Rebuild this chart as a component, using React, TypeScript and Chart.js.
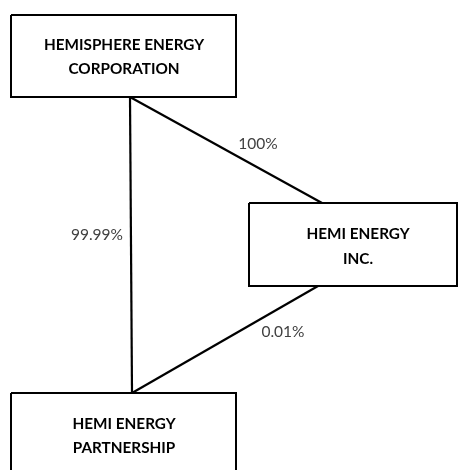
import { useEffect, useRef } from "react";
import { Chart, registerables } from "chart.js";

Chart.register(...registerables);

// Entities (org chart nodes)
const entityLine1 = ["HEMISPHERE ENERGY", "HEMI ENERGY", "HEMI ENERGY"];
const entityLine2 = ["CORPORATION", "INC.", "PARTNERSHIP"];
const boxLeft = [11, 249, 11];
const boxTop = [15, 203, 393];
const boxRight = [236, 457, 236];
const boxBottom = [97, 286, 478];
const textX = [124, 358, 124];
const textY1 = [45, 234, 424];
const textY2 = [69, 259, 448];

// Ownership links
const linkFromX = [130, 130, 318];
const linkFromY = [97, 97, 286];
const linkToX = [322, 132, 132];
const linkToY = [203, 393, 393];
const ownership = ["100%", "99.99%", "0.01%"];
const labelX = [258, 97, 283];
const labelY = [144, 235, 332];

export default function App() {
  const ref = useRef<HTMLCanvasElement | null>(null);

  useEffect(() => {
    if (!ref.current) return;
    const datasets: any[] = [];
    linkFromX.forEach((_, i) => {
      datasets.push({
        data: [
          { x: linkFromX[i], y: linkFromY[i] },
          { x: linkToX[i], y: linkToY[i] },
        ],
        showLine: true,
        borderColor: "#000",
        borderWidth: 2.2,
        pointRadius: 0,
        fill: false,
        tension: 0,
      });
    });
    boxLeft.forEach((_, i) => {
      datasets.push({
        data: [
          { x: boxLeft[i], y: boxTop[i] },
          { x: boxRight[i], y: boxTop[i] },
          { x: boxRight[i], y: boxBottom[i] },
          { x: boxLeft[i], y: boxBottom[i] },
          { x: boxLeft[i], y: boxTop[i] },
        ],
        showLine: true,
        borderColor: "#000",
        borderWidth: 2,
        pointRadius: 0,
        fill: false,
        tension: 0,
        borderJoinStyle: "miter",
      });
    });

    const textPlugin = {
      id: "orgText",
      afterDatasetsDraw(chart: any) {
        const { ctx } = chart;
        const xs = chart.scales.x;
        const ys = chart.scales.y;
        ctx.save();
        ctx.textAlign = "center";
        ctx.textBaseline = "middle";
        ctx.fillStyle = "#000";
        ctx.font = "bold 15.3px Lato";
        entityLine1.forEach((t, i) => {
          ctx.fillText(t, xs.getPixelForValue(textX[i]), ys.getPixelForValue(textY1[i]));
          ctx.fillText(entityLine2[i], xs.getPixelForValue(textX[i]), ys.getPixelForValue(textY2[i]));
        });
        ctx.fillStyle = "#404040";
        ctx.font = "15.5px Lato";
        ownership.forEach((t, i) => {
          ctx.fillText(t, xs.getPixelForValue(labelX[i]), ys.getPixelForValue(labelY[i]));
        });
        ctx.restore();
      },
    };

    const chart = new Chart(ref.current, {
      type: "scatter",
      data: { datasets },
      options: {
        animation: false,
        responsive: false,
        maintainAspectRatio: false,
        layout: { padding: 0 },
        plugins: { legend: { display: false }, tooltip: { enabled: false } },
        scales: {
          x: { type: "linear", min: 0, max: 459, display: false },
          y: { type: "linear", min: 0, max: 470, reverse: true, display: false },
        },
      },
      plugins: [textPlugin],
    });
    return () => chart.destroy();
  }, []);

  return (
    <div style={{ position: "absolute", left: 0, top: 0, width: 459, height: 470, background: "#fff" }}>
      <canvas ref={ref} width={459} height={470} style={{ display: "block" }} />
    </div>
  );
}
